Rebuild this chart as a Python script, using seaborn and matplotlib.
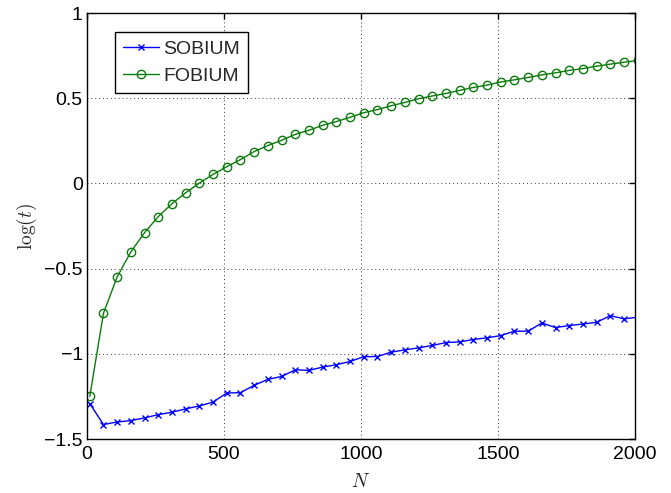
import numpy as np
import pandas as pd
import matplotlib
matplotlib.use("Agg")
import matplotlib.pyplot as plt
import seaborn as sns

# Problem sizes N and measured log run times
n_values = list(range(10, 2011, 50))

sobium = [-1.292, -1.415, -1.400, -1.392, -1.376, -1.357, -1.343, -1.323, -1.306, -1.283,
          -1.230, -1.228, -1.185, -1.150, -1.133, -1.094, -1.097, -1.078, -1.064, -1.045,
          -1.017, -1.016, -0.990, -0.977, -0.965, -0.951, -0.934, -0.930, -0.916, -0.906,
          -0.893, -0.867, -0.867, -0.819, -0.846, -0.834, -0.825, -0.815, -0.776, -0.795,
          -0.785]

fobium = [-1.250, -0.762, -0.548, -0.402, -0.289, -0.195, -0.119, -0.055, 0.002, 0.053,
          0.098, 0.140, 0.187, 0.222, 0.253, 0.288, 0.312, 0.341, 0.363, 0.388,
          0.415, 0.433, 0.456, 0.475, 0.497, 0.513, 0.528, 0.546, 0.563, 0.577,
          0.595, 0.608, 0.622, 0.637, 0.649, 0.663, 0.674, 0.688, 0.700, 0.711,
          0.722]

x_ticks = [0, 500, 1000, 1500, 2000]
y_ticks = [-1.5, -1, -0.5, 0, 0.5, 1]
y_ticklabels = ["\u22121.5", "\u22121", "\u22120.5", "0", "0.5", "1"]

sns.set_style("white")
plt.rcParams["font.family"] = ["Liberation Sans", "DejaVu Sans"]
plt.rcParams["mathtext.fontset"] = "cm"

df = pd.DataFrame({"N": n_values, "SOBIUM": sobium, "FOBIUM": fobium})

blue = "#0000ff"
green = "#0a7a0a"

fig = plt.figure(figsize=(6.71, 4.93), dpi=100)
ax = fig.add_axes([0.1297, 0.1095, 0.8167, 0.8641])

sns.lineplot(data=df, x="N", y="SOBIUM", ax=ax, color=blue, marker="x",
             markersize=4.5, markeredgewidth=1.0, markeredgecolor=blue,
             linewidth=1.0, label="SOBIUM")
sns.lineplot(data=df, x="N", y="FOBIUM", ax=ax, color=green, marker="o",
             markersize=6, markerfacecolor="none", markeredgecolor=green,
             markeredgewidth=1.0, linewidth=1.0, label="FOBIUM")

ax.set_xlim(0, 2000)
ax.set_ylim(-1.5, 1)
ax.set_xticks(x_ticks)
ax.set_yticks(y_ticks)
ax.set_yticklabels(y_ticklabels)
ax.tick_params(direction="in", length=4, width=1.0, top=True, right=True,
               labelsize=14, colors="black", pad=3)
ax.tick_params(axis="x", pad=5)
ax.grid(True, linestyle=(0, (1, 3)), color="black", linewidth=0.7, alpha=0.8)
for s in ax.spines.values():
    s.set_color("black")
    s.set_linewidth(1.0)

ax.set_xlabel(r"$N$", fontsize=14, labelpad=7)
ax.set_ylabel(r"$\log(t)$", fontsize=14, labelpad=4)

leg = ax.legend(loc="upper left", bbox_to_anchor=(0.051, 0.955), borderaxespad=0,
                fontsize=14, frameon=True, fancybox=False, edgecolor="black",
                framealpha=1, handlelength=1.85, borderpad=0.42, labelspacing=0.5,
                handletextpad=0.22)
leg.get_frame().set_linewidth(1.0)

fig.savefig("out.png", dpi=100)
